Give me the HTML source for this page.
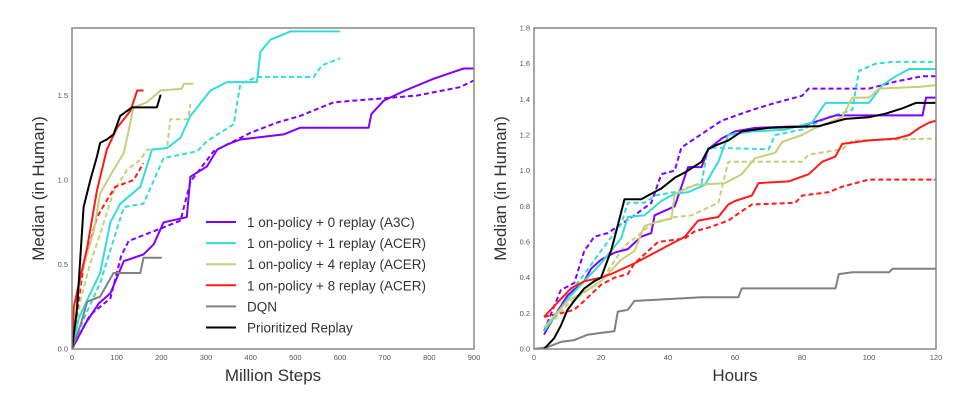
<!DOCTYPE html>
<html><head><meta charset="utf-8">
<style>
html,body{margin:0;padding:0;background:#fff;}
svg{display:block;font-family:"Liberation Sans","DejaVu Sans",sans-serif;}
</style></head>
<body>
<svg id="chart" width="963" height="410" viewBox="0 0 963 410" xmlns="http://www.w3.org/2000/svg"></svg>
<script>
// ---- Left chart data (Million Steps) ----
const leftXTicks = [0,100,200,300,400,500,600,700,800,900];
const leftYTicks = [0.0,0.5,1.0,1.5];
const leftA3C = [[0,0],[30,0.15],[60,0.27],[86,0.33],[116,0.52],[160,0.56],[183,0.62],[205,0.75],[257,0.78],[265,1.02],[302,1.08],[325,1.18],[347,1.21],[377,1.24],[474,1.27],[511,1.31],[664,1.31],[670,1.39],[698,1.47],[746,1.53],[810,1.6],[854,1.64],[877,1.66],[900,1.66]];
const leftA3Cd = [[0,0],[40,0.2],[86,0.3],[110,0.55],[127,0.64],[205,0.72],[243,0.76],[265,0.99],[317,1.17],[400,1.28],[459,1.34],[511,1.38],[586,1.46],[772,1.5],[869,1.55],[900,1.59]];
const leftR1 = [[0,0],[15,0.18],[34,0.29],[63,0.45],[86,0.75],[108,0.86],[153,0.96],[179,1.18],[213,1.19],[243,1.25],[265,1.38],[310,1.53],[347,1.58],[414,1.58],[422,1.76],[444,1.83],[489,1.88],[600,1.88]];
const leftR1d = [[0,0],[30,0.2],[63,0.39],[116,0.84],[160,0.86],[205,1.13],[280,1.17],[302,1.23],[362,1.33],[377,1.57],[414,1.61],[541,1.61],[560,1.68],[600,1.72]];
const leftR4 = [[0,0],[10,0.25],[19,0.43],[49,0.7],[63,0.92],[93,1.06],[116,1.16],[138,1.43],[168,1.46],[198,1.53],[246,1.54],[250,1.57],[272,1.57]];
const leftR4d = [[0,0],[20,0.3],[40,0.5],[63,0.68],[93,0.93],[123,1.06],[153,1.12],[168,1.18],[213,1.19],[220,1.36],[260,1.36],[265,1.45]];
const leftR8 = [[0,0],[4,0.25],[19,0.43],[34,0.6],[56,0.94],[78,1.18],[101,1.31],[131,1.41],[146,1.53],[160,1.53]];
const leftR8d = [[0,0],[10,0.2],[26,0.49],[56,0.78],[78,0.88],[97,0.96],[138,1.0],[160,1.1]];
const leftDQN = [[0,0],[20,0.15],[34,0.28],[63,0.31],[93,0.45],[153,0.45],[160,0.54],[201,0.54]];
const leftPR = [[0,0],[11,0.23],[26,0.84],[41,1.0],[56,1.14],[63,1.22],[78,1.24],[93,1.27],[108,1.38],[134,1.43],[190,1.43],[198,1.5],[200,1.5]];

// ---- Right chart data (Hours) ----
const rightXTicks = [0,20,40,60,80,100,120];
const rightYTicks = [0.0,0.2,0.4,0.6,0.8,1.0,1.2,1.4,1.6,1.8];
const rightA3C = [[3,0.08],[5,0.15],[10,0.3],[15,0.38],[17,0.45],[20,0.5],[24,0.54],[28,0.56],[32,0.63],[35,0.65],[36,0.75],[42,0.8],[46,1.02],[50,1.02],[52,1.12],[56,1.18],[60,1.22],[66,1.24],[80,1.25],[85,1.28],[90,1.31],[116,1.31],[117,1.41],[120,1.41]];
const rightA3Cd = [[3,0.1],[8,0.33],[12,0.37],[15,0.55],[18,0.63],[22,0.65],[26,0.7],[30,0.75],[35,0.82],[38,0.98],[42,1.0],[44,1.13],[48,1.18],[56,1.28],[65,1.34],[72,1.38],[80,1.42],[82,1.46],[100,1.46],[108,1.5],[116,1.53],[120,1.53]];
const rightR1 = [[3,0.1],[10,0.28],[15,0.38],[20,0.48],[26,0.62],[28,0.74],[33,0.75],[38,0.83],[42,0.87],[46,0.88],[51,0.92],[55,1.05],[58,1.2],[65,1.22],[75,1.23],[83,1.27],[87,1.38],[100,1.38],[104,1.48],[108,1.53],[112,1.57],[120,1.57]];
const rightR1d = [[3,0.1],[10,0.3],[15,0.42],[20,0.55],[26,0.7],[28,0.82],[33,0.82],[36,0.86],[42,0.88],[50,0.93],[52,1.13],[70,1.12],[72,1.2],[80,1.23],[88,1.3],[95,1.34],[97,1.56],[102,1.6],[107,1.61],[120,1.61]];
const rightR4 = [[3,0.12],[10,0.27],[15,0.32],[20,0.38],[26,0.5],[30,0.55],[33,0.69],[38,0.72],[41,0.73],[42,0.87],[48,0.92],[57,0.93],[62,0.98],[66,1.07],[72,1.1],[74,1.16],[80,1.2],[84,1.24],[92,1.3],[95,1.41],[100,1.41],[103,1.46],[115,1.47],[120,1.48]];
const rightR4d = [[3,0.1],[10,0.25],[20,0.38],[27,0.58],[30,0.62],[35,0.7],[42,0.74],[47,0.75],[55,0.82],[58,1.05],[80,1.05],[82,1.09],[92,1.12],[95,1.17],[120,1.18]];
const rightR8 = [[3,0.18],[8,0.28],[11,0.34],[15,0.38],[20,0.4],[23,0.42],[30,0.48],[35,0.53],[40,0.58],[45,0.63],[49,0.72],[55,0.74],[58,0.81],[60,0.83],[65,0.86],[67,0.93],[76,0.94],[82,0.98],[86,1.05],[90,1.08],[92,1.15],[100,1.17],[108,1.18],[112,1.2],[115,1.24],[118,1.27],[120,1.28]];
const rightR8d = [[3,0.18],[8,0.2],[12,0.22],[15,0.27],[20,0.36],[24,0.4],[28,0.42],[30,0.48],[37,0.6],[45,0.62],[48,0.66],[52,0.68],[58,0.72],[61,0.76],[65,0.81],[78,0.82],[80,0.86],[88,0.88],[92,0.91],[96,0.93],[100,0.95],[120,0.95]];
const rightDQN = [[0,0],[4,0.01],[8,0.04],[12,0.05],[16,0.08],[20,0.09],[24,0.1],[25,0.21],[28,0.22],[30,0.27],[40,0.28],[50,0.29],[61,0.29],[62,0.34],[90,0.34],[91,0.42],[95,0.43],[106,0.43],[107,0.45],[120,0.45]];
const rightPR = [[3,0],[6,0.06],[8,0.13],[10,0.22],[12,0.27],[15,0.34],[18,0.38],[20,0.4],[23,0.55],[24,0.62],[27,0.84],[32,0.84],[35,0.87],[38,0.9],[42,0.96],[45,0.99],[50,1.05],[52,1.12],[54,1.14],[58,1.17],[62,1.22],[70,1.24],[85,1.25],[93,1.29],[100,1.3],[105,1.32],[110,1.35],[114,1.38],[120,1.38]];

const legendLabels = ["1 on-policy + 0 replay (A3C)","1 on-policy + 1 replay (ACER)","1 on-policy + 4 replay (ACER)","1 on-policy + 8 replay (ACER)","DQN","Prioritized Replay"];
const COL = {a3c:"#8000ff", r1:"#33dcdc", r4:"#c6d07a", r8:"#ff1a1a", dqn:"#808080", pr:"#000000"};

const NS = "http://www.w3.org/2000/svg";
const svg = document.getElementById('chart');
function mk(tag, attrs, parent){const e=document.createElementNS(NS,tag);for(const k in attrs)e.setAttribute(k,attrs[k]);(parent||svg).appendChild(e);return e;}

function makeChart(prefix, box, xmax, ymax, xTicks, yTicks, yFmt, xTitle, series){
  const g = mk('g',{});
  
  
  const sx = v => box.x0 + v/xmax*(box.x1-box.x0);
  const sy = v => box.y1 - v/ymax*(box.y1-box.y0);
  const clip = mk('clipPath',{id:prefix+'-clip'}, g);
  mk('rect',{x:box.x0,y:box.y0,width:box.x1-box.x0,height:box.y1-box.y0}, clip);
  const sg = mk('g',{'clip-path':'url(#'+prefix+'-clip)'}, g);
  series.forEach(s=>{
    const pts = s.data.map(p=>sx(p[0]).toFixed(1)+','+sy(p[1]).toFixed(1)).join(' ');
    const line = mk('polyline',{points:pts,fill:'none',stroke:s.color,'stroke-width':2,'stroke-dasharray':s.dash?'5,3':'none','stroke-linejoin':'round'}, sg);
    
    
  });
  const frame = mk('rect',{x:box.x0,y:box.y0,width:box.x1-box.x0,height:box.y1-box.y0,fill:'none',stroke:'#888','stroke-width':1.5}, g);
  
  
  xTicks.forEach(t=>{
    const tx = mk('text',{x:sx(t),y:box.y1+11,'font-size':7.5,fill:'#555','text-anchor':'middle'}, g);
    tx.textContent = t;
    
    
  });
  yTicks.forEach(t=>{
    const tx = mk('text',{x:box.x0-4,y:sy(t)+2.5,'font-size':7.5,fill:'#555','text-anchor':'end'}, g);
    tx.textContent = yFmt(t);
    
    
  });
  const xt = mk('text',{x:(box.x0+box.x1)/2,y:box.y1+32,'font-size':17,fill:'#333','text-anchor':'middle'}, g);
  xt.textContent = xTitle;
  
  
  const yx = box.x0 - 28;
  const yt = mk('text',{x:yx,y:(box.y0+box.y1)/2,'font-size':17,fill:'#333','text-anchor':'middle',transform:'rotate(-90 '+yx+' '+((box.y0+box.y1)/2)+')'}, g);
  yt.textContent = 'Median (in Human)';
  
  
  return g;
}

makeChart('left',{x0:72,x1:474,y0:28,y1:349},900,1.9,leftXTicks,leftYTicks,t=>t.toFixed(1),'Million Steps',[
  {name:'a3c-dashed',data:leftA3Cd,color:COL.a3c,dash:true},
  {name:'acer1-dashed',data:leftR1d,color:COL.r1,dash:true},
  {name:'acer4-dashed',data:leftR4d,color:COL.r4,dash:true},
  {name:'acer8-dashed',data:leftR8d,color:COL.r8,dash:true},
  {name:'a3c',data:leftA3C,color:COL.a3c},
  {name:'acer1',data:leftR1,color:COL.r1},
  {name:'acer4',data:leftR4,color:COL.r4},
  {name:'acer8',data:leftR8,color:COL.r8},
  {name:'dqn',data:leftDQN,color:COL.dqn},
  {name:'prioritized-replay',data:leftPR,color:COL.pr}
]);
makeChart('right',{x0:534,x1:936,y0:28,y1:349},120,1.8,rightXTicks,rightYTicks,t=>t.toFixed(1),'Hours',[
  {name:'a3c-dashed',data:rightA3Cd,color:COL.a3c,dash:true},
  {name:'acer1-dashed',data:rightR1d,color:COL.r1,dash:true},
  {name:'acer4-dashed',data:rightR4d,color:COL.r4,dash:true},
  {name:'acer8-dashed',data:rightR8d,color:COL.r8,dash:true},
  {name:'a3c',data:rightA3C,color:COL.a3c},
  {name:'acer1',data:rightR1,color:COL.r1},
  {name:'acer4',data:rightR4,color:COL.r4},
  {name:'acer8',data:rightR8,color:COL.r8},
  {name:'dqn',data:rightDQN,color:COL.dqn},
  {name:'prioritized-replay',data:rightPR,color:COL.pr}
]);

// legend
const lg = mk('g',{});


const lcolors=[COL.a3c,COL.r1,COL.r4,COL.r8,COL.dqn,COL.pr];
legendLabels.forEach((lab,i)=>{
  const y = 222 + i*21.1;
  const e = mk('g',{}, lg);
  
  
  mk('line',{x1:206,x2:236,y1:y,y2:y,stroke:lcolors[i],'stroke-width':2}, e);
  const t = mk('text',{x:247,y:y+5,'font-size':13.5,fill:'#333'}, e);
  t.textContent = lab;
});
</script>
</body></html>
